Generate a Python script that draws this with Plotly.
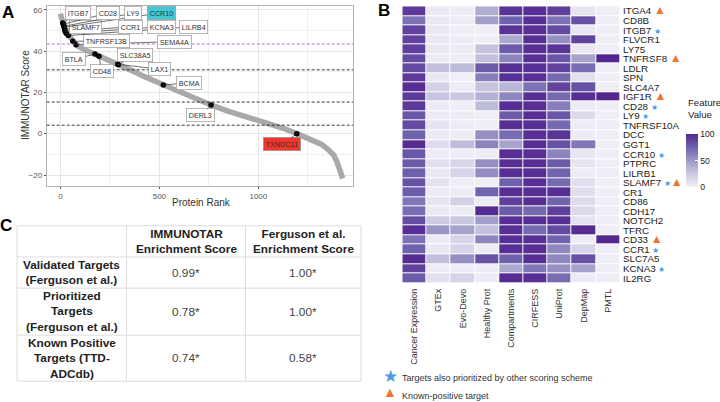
"""Target ranking curve, feature heatmap and enrichment table, three panels."""

import plotly.graph_objects as go

W, H = 720, 402
FONT = "Liberation Sans, Arial, sans-serif"

# panel A, the ranked curve
curve_rank = [0, 4, 15, 24, 40, 63, 79, 100, 140, 175, 195, 240, 293, 350, 420, 520, 600,
              680, 761, 850, 950, 1050, 1130, 1194, 1260, 1320, 1354, 1380, 1396, 1413, 1420, 1426]
curve_score = [58, 56, 53, 50, 47.8, 44.7, 43, 41.6, 40, 38.5, 37.5, 35.8, 33.4, 31, 27.8, 23.6, 20.3,
               16.8, 13.9, 10.8, 8, 5.2, 2.5, 0, -2.6, -5.2, -7.8, -10.3, -13.4, -18, -20, -21.7]

label_names = ["ITGB7", "CD28", "LY9", "CCR10", "SLAMF7", "CCR1", "KCNA3", "LILRB4", "TNFRSF13B",
               "SEMA4A", "BTLA", "SLC38A5", "CD48", "LAX1", "BCMA", "DERL3", "TXNDC11"]
label_rank = [12, 16, 18, 20, 22, 24, 30, 40, 63, 79, 175, 293, 195, 290, 520, 761, 1194]
label_score = [53.5, 53, 52, 51.5, 50.5, 49.5, 48.5, 47.5, 44.7, 43, 38.5, 33.4, 37.5, 33.6, 23.6, 13.9, 0]
# pixel offsets of the boxes from their points
label_dx = [15, 44.5, 69, 97, 21, 65.7, 95, 125, 34, 98, -21, 16.7, 2.7, 41.7, 25.7, -10.7, -14.4]
label_dy = [-10, -11, -13, -14.5, -2.6, -4.6, -6.7, -8.8, -0.7, -3.3, 5, -9.6, 15, 5, -2, 10.3, 10.7]
label_fill = {"CCR10": "#3fc9d6", "TXNDC11": "#f0352a"}

black_cutoffs = [30.9, 15.3, 4.1]
purple_cutoff = 43.4

# panel B, the heatmap
features = ["Cancer Expression", "GTEx", "Evo-Devo", "Healthy Prot", "Compartments",
            "CIRFESS", "UniProt", "DepMap", "PMTL"]
genes = ["ITGA4", "CD8B", "ITGB7", "FLVCR1", "LY75", "TNFRSF8", "LDLR", "SPN", "SLC4A7", "IGF1R",
         "CD28", "LY9", "TNFRSF10A", "DCC", "GGT1", "CCR10", "PTPRC", "LILRB1", "SLAMF7", "CR1",
         "CD86", "CDH17", "NOTCH2", "TFRC", "CD33", "CCR1", "SLC7A5", "KCNA3", "IL2RG"]
feature_values = [
    [92, 5, 3, 40, 95, 97, 90, 7, 2],
    [68, 6, 3, 48, 75, 97, 68, 82, 2],
    [88, 6, 2, 1, 95, 97, 85, 6, 2],
    [88, 5, 3, 2, 42, 97, 55, 88, 2],
    [90, 5, 3, 28, 78, 97, 94, 5, 2],
    [85, 4, 3, 30, 60, 97, 80, 45, 100],
    [85, 30, 32, 78, 97, 97, 88, 70, 2],
    [92, 6, 1, 62, 97, 97, 72, 10, 2],
    [97, 20, 3, 28, 35, 68, 88, 82, 2],
    [92, 27, 25, 38, 58, 97, 72, 97, 100],
    [92, 3, 2, 32, 97, 97, 62, 3, 2],
    [80, 4, 3, 2, 78, 97, 80, 14, 2],
    [85, 8, 3, 2, 97, 97, 72, 3, 2],
    [75, 4, 3, 55, 70, 97, 94, 3, 2],
    [98, 13, 32, 60, 45, 97, 82, 65, 2],
    [80, 3, 3, 3, 97, 97, 60, 7, 2],
    [78, 10, 17, 55, 97, 97, 78, 7, 2],
    [76, 6, 18, 56, 97, 97, 74, 3, 2],
    [82, 9, 2, 2, 76, 97, 72, 11, 2],
    [78, 3, 3, 74, 97, 97, 97, 11, 2],
    [66, 8, 20, 3, 90, 97, 74, 14, 2],
    [70, 5, 3, 98, 78, 72, 90, 15, 2],
    [84, 24, 26, 48, 97, 97, 97, 9, 2],
    [97, 52, 46, 30, 97, 72, 85, 98, 2],
    [68, 4, 17, 60, 97, 97, 74, 3, 100],
    [75, 5, 18, 3, 97, 97, 58, 18, 2],
    [98, 30, 55, 82, 75, 97, 58, 82, 2],
    [88, 3, 3, 3, 42, 66, 55, 46, 2],
    [78, 10, 18, 3, 98, 97, 70, 4, 2],
]
star_genes = ["ITGB7", "CD28", "LY9", "CCR10", "SLAMF7", "CCR1", "KCNA3"]
triangle_genes = ["ITGA4", "TNFRSF8", "IGF1R", "SLAMF7", "CD33"]

# panel C, the table
table_header = ["", "IMMUNOTAR<br>Enrichment Score", "Ferguson et al.<br>Enrichment Score"]
table_rows = ["Validated Targets<br>(Ferguson et al.)",
              "Prioritized<br>Targets<br>(Ferguson et al.)",
              "Known Positive<br>Targets (TTD-<br>ADCdb)"]
immunotar_scores = ["0.99*", "0.78*", "0.74*"]
ferguson_scores = ["1.00*", "1.00*", "0.58*"]
table_col_edges = [17, 126.5, 245.5, 361]
table_row_edges = [225, 256.5, 288, 335.5, 382]

STAR = "#4a9be8"
TRIANGLE = "#ee7430"
PURPLES = [[0, "#f2f0f7"], [0.25, "#cbc9e2"], [0.5, "#9e9ac8"], [0.75, "#6f62ad"], [1, "#54278f"]]


def px(x):
    return x / W


def py(y):
    return 1 - y / H


def gene_tick(gene):
    marks = " " if gene in star_genes or gene in triangle_genes else ""
    if gene in star_genes:
        marks += f'<span style="color:{STAR};font-size:8px">★</span>'
    if gene in triangle_genes:
        marks += f'<span style="color:{TRIANGLE};font-size:12px">▲</span>'
    return gene + marks


fig = go.Figure()

fig.add_trace(go.Scatter(x=curve_rank, y=curve_score, mode="lines", xaxis="x", yaxis="y",
                         line=dict(color="#a9a9a9", width=5.5), hoverinfo="skip"))
fig.add_trace(go.Scatter(x=label_rank, y=label_score, mode="markers", xaxis="x", yaxis="y",
                         marker=dict(color="black", size=5.5), text=label_names))
fig.add_trace(go.Heatmap(z=feature_values, x=features, y=genes, xaxis="x2", yaxis="y2",
                         zmin=0, zmax=100, colorscale=PURPLES, xgap=1, ygap=1,
                         colorbar=dict(
                             x=px(686), xanchor="left", xpad=0,
                             y=py(132.7), yanchor="top", ypad=0,
                             len=54 / H, lenmode="fraction",
                             thickness=12, thicknessmode="pixels",
                             outlinewidth=0,
                             tickvals=[0, 50, 100], ticks="inside", ticklen=3, tickcolor="white",
                             tickfont=dict(size=8.6, color="#222222"),
                         )))

for cutoff in black_cutoffs:
    fig.add_shape(type="line", xref="x domain", yref="y", x0=0, x1=1, y0=cutoff, y1=cutoff,
                  line=dict(color="#222222", width=0.9, dash="3px,2px"))
fig.add_shape(type="line", xref="x domain", yref="y", x0=0, x1=1, y0=purple_cutoff, y1=purple_cutoff,
              line=dict(color="#b25ad8", width=0.9, dash="3px,2px"))

annotations = []
# far labels first so the nearer boxes sit on top of their leader lines
label_rows = list(zip(label_names, label_rank, label_score, label_dx, label_dy))
for name, rank, score, dx, dy in reversed(label_rows):
    annotations.append(dict(
        x=rank, y=score, xref="x", yref="y", ax=dx, ay=dy, axref="pixel", ayref="pixel",
        text=name, showarrow=True, arrowhead=0, arrowwidth=0.7, arrowcolor="#333333",
        font=dict(size=7.2, color="#333333"), bgcolor=label_fill.get(name, "white"),
        bordercolor="#999999", borderwidth=0.7, borderpad=2, xanchor="center", yanchor="middle",
    ))

# panel letters, axis titles and the colour bar title
for text, lx, ly, size, angle in [
    ("<b>A</b>", 8, 10, 17, 0),
    ("<b>B</b>", 384, 8, 17, 0),
    ("<b>C</b>", 6, 225, 17, 0),
    ("IMMUNOTAR Score", 25, 93, 10, -90),
    ("Protein Rank", 201, 201.5, 10, 0),
]:
    annotations.append(dict(x=px(lx), y=py(ly), xref="paper", yref="paper", text=text, textangle=angle,
                            showarrow=False, xanchor="center", yanchor="middle",
                            font=dict(size=size, color="black" if size > 10 else "#333333")))
annotations.append(dict(x=px(686), y=py(106.5), xref="paper", yref="paper", text="Feature<br>Value",
                        align="left", showarrow=False, xanchor="left", yanchor="middle",
                        font=dict(size=9.6, color="#222222")))

# key below the heatmap
for glyph, color, size, gx, gy, text, ty in [
    ("★", STAR, 17, 391, 377, "Targets also prioritized by other scoring scheme", 379),
    ("▲", TRIANGLE, 14, 390, 393, "Known-positive target", 397),
]:
    annotations.append(dict(x=px(gx), y=py(gy), xref="paper", yref="paper", text=glyph,
                            showarrow=False, xanchor="center", yanchor="middle",
                            font=dict(size=size, color=color)))
    annotations.append(dict(x=px(400), y=py(ty), xref="paper", yref="paper", text=text, xanchor="left",
                            yanchor="middle", showarrow=False, font=dict(size=9, color="#333333")))

# table cells and rules
table_cells = [table_header] + [[table_rows[i], immunotar_scores[i], ferguson_scores[i]]
                                for i in range(len(table_rows))]
for r, row in enumerate(table_cells):
    for c, cell in enumerate(row):
        if not cell:
            continue
        bold = r == 0 or c == 0
        annotations.append(dict(
            x=px((table_col_edges[c] + table_col_edges[c + 1]) / 2),
            y=py((table_row_edges[r] + table_row_edges[r + 1]) / 2),
            xref="paper", yref="paper", showarrow=False, xanchor="center", yanchor="middle",
            text=f"<b>{cell}</b>" if bold else cell,
            font=dict(size=11.8, color="#222222" if bold else "#444444"),
        ))

for edge in table_col_edges:
    fig.add_shape(type="line", xref="paper", yref="paper", x0=px(edge), x1=px(edge),
                  y0=py(table_row_edges[0]), y1=py(table_row_edges[-1]),
                  line=dict(color="#dddddd", width=1))
for edge in table_row_edges:
    fig.add_shape(type="line", xref="paper", yref="paper", x0=px(table_col_edges[0]), x1=px(table_col_edges[-1]),
                  y0=py(edge), y1=py(edge), line=dict(color="#dddddd", width=1))

fig.update_layout(
    width=W, height=H, margin=dict(l=0, r=0, t=0, b=0), showlegend=False,
    paper_bgcolor="white", plot_bgcolor="white", font=dict(family=FONT, color="#222222"),
    annotations=annotations,
    xaxis=dict(
        domain=[px(46.7), px(353)], range=[-69, 1478], tickvals=[0, 500, 1000],
        gridcolor="#e6e6e6", gridwidth=0.8, zeroline=False,
        minor=dict(tickvals=[250, 750, 1250], showgrid=True, gridcolor="#f0f0f0", gridwidth=0.5),
        showline=True, mirror=True, linecolor="#b0b0b0", linewidth=1,
        ticks="outside", ticklen=2, tickcolor="#555555", tickfont=dict(size=8, color="#555555"),
    ),
    yaxis=dict(
        domain=[py(185), py(3)], range=[-25.4, 61.8], tickvals=[-20, 0, 20, 40, 60],
        gridcolor="#e6e6e6", gridwidth=0.8, zeroline=False,
        minor=dict(tickvals=[-10, 10, 30, 50], showgrid=True, gridcolor="#f0f0f0", gridwidth=0.5),
        showline=True, mirror=True, linecolor="#b0b0b0", linewidth=1,
        ticks="outside", ticklen=2, tickcolor="#555555", tickfont=dict(size=8, color="#555555"),
    ),
    xaxis2=dict(
        domain=[px(402.3), px(620)], anchor="y2", side="bottom", tickangle=-90,
        tickfont=dict(size=9, color="#333333"), ticks="", showgrid=False, ticklabelstandoff=3,
    ),
    yaxis2=dict(
        domain=[py(282.7), py(3.3)], anchor="x2", side="right", autorange="reversed",
        tickmode="array", tickvals=genes, ticktext=[gene_tick(g) for g in genes],
        tickfont=dict(size=9.8, color="#222222"), ticks="", showgrid=False, ticklabelstandoff=2,
    ),
)

fig.write_html("out.html", config={"displayModeBar": False},
               post_script="document.body.style.margin = '0';")
